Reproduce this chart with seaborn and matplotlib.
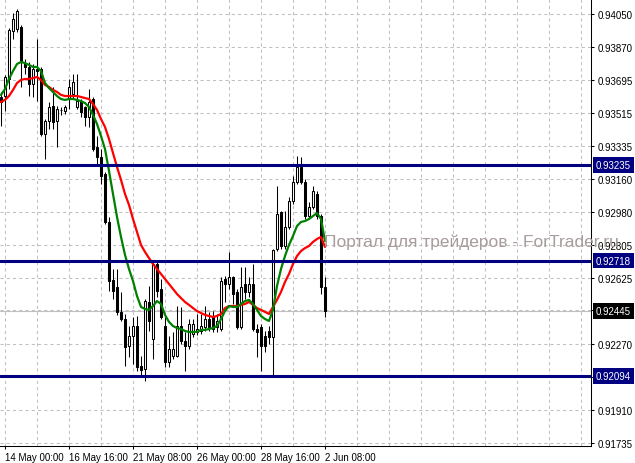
"""EURCHF-style H4 chart: candles, two moving averages, three horizontal levels."""
import matplotlib
matplotlib.use('Agg')
import matplotlib.pyplot as plt  # noqa: E402
import matplotlib.transforms as mtransforms  # noqa: E402
import numpy as np  # noqa: E402
import pandas as pd  # noqa: E402
import seaborn as sns  # noqa: E402

# H4 bars, oldest first
OPEN = [0.93602, 0.93607, 0.93699, 0.93958, 0.93969, 0.93980, 0.93785, 0.93764, 0.93672, 0.93753,
        0.93753, 0.93402, 0.93472, 0.93553, 0.93472, 0.93532, 0.93526, 0.93591, 0.93618, 0.93548,
        0.93580, 0.93548, 0.93494, 0.93591, 0.93332, 0.93278, 0.93186, 0.92927, 0.92614, 0.92576,
        0.92441, 0.92403, 0.92257, 0.92311, 0.92365, 0.92149, 0.92133, 0.92495, 0.92295, 0.92700,
        0.92565, 0.92365, 0.92171, 0.92203, 0.92203, 0.92365, 0.92284, 0.92257, 0.92322, 0.92333,
        0.92338, 0.92360, 0.92403, 0.92414, 0.92360, 0.92349, 0.92619, 0.92592, 0.92630, 0.92549,
        0.92360, 0.92592, 0.92549, 0.92592, 0.92349, 0.92360, 0.92311, 0.92338, 0.92306, 0.92781,
        0.92981, 0.92797, 0.92900, 0.93040, 0.93143, 0.93224, 0.93143, 0.92959, 0.93008, 0.93078,
        0.92959, 0.92576]
HIGH = [0.93629, 0.93721, 0.93974, 0.94055, 0.94077, 0.93991, 0.93807, 0.93791, 0.93780, 0.93915,
        0.93764, 0.93483, 0.93575, 0.93656, 0.93553, 0.93548, 0.93559, 0.93699, 0.93726, 0.93726,
        0.93591, 0.93553, 0.93645, 0.93602, 0.93391, 0.93321, 0.93197, 0.92954, 0.92673, 0.92673,
        0.92549, 0.92430, 0.92365, 0.92414, 0.92419, 0.92203, 0.92511, 0.92581, 0.92711, 0.92716,
        0.92619, 0.92414, 0.92311, 0.92333, 0.92473, 0.92468, 0.92333, 0.92403, 0.92403, 0.92430,
        0.92430, 0.92473, 0.92441, 0.92446, 0.92430, 0.92630, 0.92635, 0.92765, 0.92635, 0.92565,
        0.92684, 0.92684, 0.92630, 0.92700, 0.92376, 0.92376, 0.92338, 0.92365, 0.92781, 0.93121,
        0.92986, 0.92986, 0.93062, 0.93175, 0.93283, 0.93278, 0.93159, 0.93035, 0.93121, 0.93094,
        0.92970, 0.92630]
LOW = [0.93445, 0.93526, 0.93645, 0.93915, 0.93953, 0.93656, 0.93726, 0.93607, 0.93602, 0.93580,
       0.93391, 0.93267, 0.93429, 0.93429, 0.93332, 0.93505, 0.93510, 0.93537, 0.93591, 0.93537,
       0.93494, 0.93445, 0.93440, 0.93310, 0.93240, 0.93132, 0.92916, 0.92554, 0.92511, 0.92425,
       0.92392, 0.92149, 0.92198, 0.92160, 0.92122, 0.92090, 0.92068, 0.92338, 0.92187, 0.92522,
       0.92403, 0.92144, 0.92144, 0.92187, 0.92198, 0.92268, 0.92122, 0.92241, 0.92306, 0.92317,
       0.92322, 0.92338, 0.92338, 0.92333, 0.92333, 0.92338, 0.92495, 0.92565, 0.92484, 0.92349,
       0.92349, 0.92511, 0.92522, 0.92338, 0.92198, 0.92122, 0.92225, 0.92268, 0.92095, 0.92770,
       0.92781, 0.92781, 0.92889, 0.93024, 0.93132, 0.93132, 0.92943, 0.92943, 0.92997, 0.92943,
       0.92538, 0.92414]
CLOSE = [0.93575, 0.93710, 0.93964, 0.94023, 0.94066, 0.93791, 0.93764, 0.93672, 0.93753, 0.93742,
         0.93402, 0.93472, 0.93548, 0.93467, 0.93537, 0.93530, 0.93548, 0.93656, 0.93683, 0.93580,
         0.93521, 0.93494, 0.93575, 0.93321, 0.93278, 0.93175, 0.92927, 0.92608, 0.92554, 0.92441,
         0.92403, 0.92252, 0.92311, 0.92365, 0.92144, 0.92128, 0.92500, 0.92392, 0.92700, 0.92554,
         0.92414, 0.92171, 0.92241, 0.92241, 0.92365, 0.92284, 0.92257, 0.92376, 0.92376, 0.92349,
         0.92365, 0.92403, 0.92360, 0.92349, 0.92392, 0.92608, 0.92592, 0.92630, 0.92538, 0.92360,
         0.92576, 0.92549, 0.92592, 0.92349, 0.92333, 0.92257, 0.92257, 0.92306, 0.92775, 0.92970,
         0.92797, 0.92900, 0.93040, 0.93143, 0.93224, 0.93143, 0.92959, 0.93008, 0.93094, 0.92959,
         0.92576, 0.92445]

# moving averages as drawn on the chart (green = fast, red = slow)
MA_FAST = [0.93613, 0.93645, 0.93699, 0.93742, 0.93780, 0.93791, 0.93785, 0.93775, 0.93764, 0.93764,
           0.93742, 0.93677, 0.93650, 0.93629, 0.93607, 0.93591, 0.93586, 0.93591, 0.93591, 0.93586,
           0.93580, 0.93569, 0.93548, 0.93505, 0.93456, 0.93391, 0.93321, 0.93202, 0.93078, 0.92954,
           0.92846, 0.92749, 0.92673, 0.92608, 0.92527, 0.92468, 0.92457, 0.92452, 0.92473, 0.92500,
           0.92484, 0.92425, 0.92387, 0.92365, 0.92354, 0.92349, 0.92338, 0.92333, 0.92333, 0.92333,
           0.92344, 0.92344, 0.92349, 0.92354, 0.92365, 0.92403, 0.92446, 0.92473, 0.92468, 0.92468,
           0.92484, 0.92500, 0.92506, 0.92484, 0.92452, 0.92419, 0.92403, 0.92392, 0.92452, 0.92581,
           0.92673, 0.92743, 0.92803, 0.92851, 0.92905, 0.92927, 0.92932, 0.92943, 0.92959, 0.92975,
           0.92943, 0.92824]
MA_SLOW = [0.93575, 0.93586, 0.93607, 0.93640, 0.93677, 0.93694, 0.93699, 0.93699, 0.93704, 0.93710,
           0.93694, 0.93667, 0.93656, 0.93640, 0.93629, 0.93613, 0.93607, 0.93607, 0.93607, 0.93607,
           0.93602, 0.93596, 0.93591, 0.93564, 0.93532, 0.93483, 0.93440, 0.93375, 0.93299, 0.93224,
           0.93154, 0.93078, 0.93019, 0.92943, 0.92873, 0.92803, 0.92765, 0.92732, 0.92700, 0.92673,
           0.92646, 0.92619, 0.92592, 0.92565, 0.92538, 0.92516, 0.92495, 0.92479, 0.92462, 0.92446,
           0.92435, 0.92425, 0.92419, 0.92414, 0.92419, 0.92430, 0.92462, 0.92473, 0.92473, 0.92473,
           0.92479, 0.92484, 0.92495, 0.92479, 0.92462, 0.92452, 0.92441, 0.92430, 0.92468, 0.92506,
           0.92549, 0.92603, 0.92646, 0.92700, 0.92743, 0.92770, 0.92786, 0.92797, 0.92819, 0.92835,
           0.92846, 0.92792]

LEVELS = [0.93235, 0.92718, 0.92094]
BID = 0.92445

PRICE_TICKS = [0.94050, 0.93870, 0.93695, 0.93515, 0.93335, 0.93160, 0.92980,
               0.92805, 0.92625, 0.92450, 0.92270, 0.92090, 0.91910, 0.91735]
# the 0.92450 / 0.92090 ticks sit under the bid and level boxes
PRICE_LABELS = ['0.94050', '0.93870', '0.93695', '0.93515', '0.93335', '0.93160', '0.92980',
                '0.92805', '0.92625', '', '0.92270', '', '0.91910', '0.91735']

TIME_TICKS = [1, 17, 33, 49, 65, 81]
TIME_LABELS = ['14 May 00:00', '16 May 16:00', '21 May 08:00',
               '26 May 00:00', '28 May 16:00', '2 Jun 08:00']

WATERMARK = 'Портал для трейдеров - ForTrader.ru'

NAVY = '#000080'
GRID = '#c0c0c0'


def main():
    sns.set_style('white')
    plt.rcParams['font.family'] = ['Liberation Sans', 'DejaVu Sans']

    df = pd.DataFrame(dict(open=OPEN, high=HIGH, low=LOW, close=CLOSE,
                           fast=MA_FAST, slow=MA_SLOW))
    df['bar'] = np.arange(len(df))
    up = df.close >= df.open

    fig = plt.figure(figsize=(6.35, 4.64), dpi=100)
    ax = fig.add_axes([0, 17 / 464, 591 / 635, 447 / 464])

    # candles: wick first, body on top so white bodies hide the wick
    ax.vlines(df.bar, df.low, df.high, color='black', lw=0.75, zorder=2)
    ax.bar(df.bar, (df.close - df.open).abs(), bottom=df[['open', 'close']].min(axis=1),
           width=0.6, color=np.where(up, 'white', 'black'), edgecolor='black', lw=0.75,
           zorder=3)

    sns.lineplot(data=df, x='bar', y='slow', color='#ff0000', lw=1.6, estimator=None,
                 ax=ax, zorder=4)
    sns.lineplot(data=df, x='bar', y='fast', color='#008000', lw=1.6, estimator=None,
                 ax=ax, zorder=4)

    ax.axhline(BID, color=GRID, lw=0.8, zorder=1)
    for lv in LEVELS:
        ax.axhline(lv, color=NAVY, lw=2.2, zorder=5)

    # price boxes on the scale
    trans = mtransforms.blended_transform_factory(ax.transAxes, ax.transData)
    for lv, fc in [(lv, NAVY) for lv in LEVELS] + [(BID, 'black')]:
        ax.text(1.0085, lv, f'{lv:.5f}', transform=trans, ha='left', va='center',
                color='white', fontsize=7, clip_on=False, zorder=6,
                bbox=dict(boxstyle='square,pad=0.28', fc=fc, ec='none'))

    ax.set_xlim(-0.25, 147.5)
    ax.set_ylim(0.91717, 0.94131)

    ax.yaxis.tick_right()
    ax.set_yticks(PRICE_TICKS, PRICE_LABELS)
    ax.set_xticks(TIME_TICKS, TIME_LABELS, ha='left')
    ax.set_xticks(np.arange(1, 148, 8), minor=True)
    ax.tick_params(axis='y', which='both', length=2.5, width=0.75, pad=2, labelsize=7,
                   colors='black', right=True, left=False)
    ax.tick_params(axis='x', which='major', length=2.5, width=0.75, pad=1.5, labelsize=7,
                   colors='black', bottom=True)
    ax.tick_params(axis='x', which='minor', length=0)
    ax.grid(True, which='both', color=GRID, ls=(0, (3, 3)), lw=0.75, zorder=0)
    ax.set_axisbelow(True)
    ax.set_xlabel('')
    ax.set_ylabel('')

    for side in ('left', 'top'):
        ax.spines[side].set_visible(False)
    for side in ('right', 'bottom'):
        ax.spines[side].set_color('black')
        ax.spines[side].set_linewidth(0.75)

    fig.text(324 / 635, 1 - 242 / 464, WATERMARK, ha='left', va='center', fontsize=12.5,
             color='#a89c9c', zorder=10)

    fig.savefig('out.png', dpi=100)
    plt.close(fig)


if __name__ == '__main__':
    main()
